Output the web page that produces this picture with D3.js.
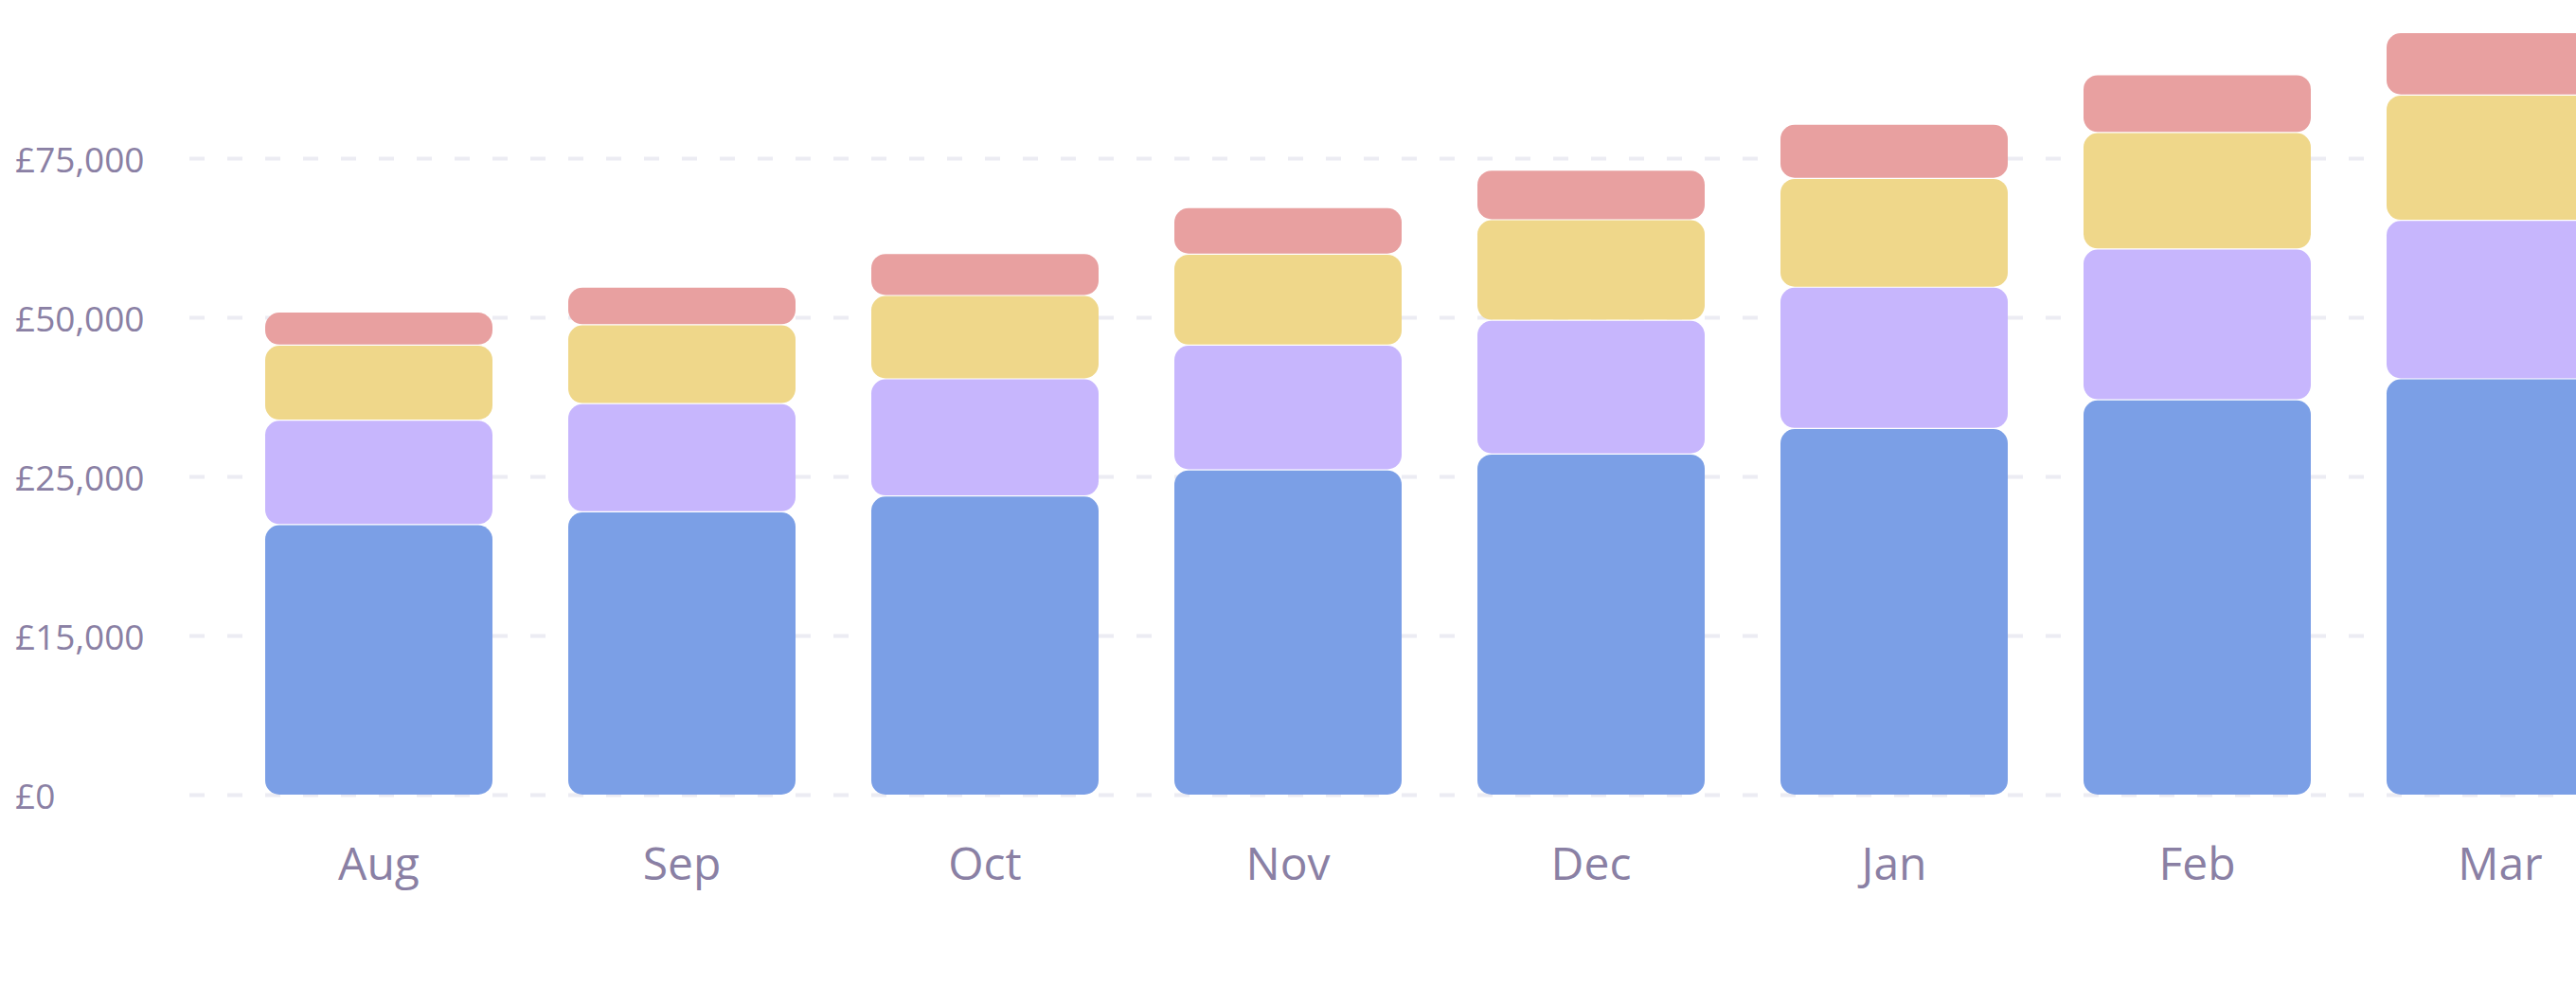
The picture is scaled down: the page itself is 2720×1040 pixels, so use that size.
<!DOCTYPE html>
<html>
<head>
<meta charset="utf-8">
<script src="https://cdn.jsdelivr.net/npm/d3@7/dist/d3.min.js"></script>
<style>
  html, body { margin: 0; padding: 0; background: #ffffff; }
  svg { display: block; }
  text { font-family: "Open Sans", "Noto Sans", sans-serif; }
</style>
</head>
<body>
<svg id="chart" width="2720" height="1040"></svg>
<script>
// ---- data ----
const months = ["Aug", "Sep", "Oct", "Nov", "Dec", "Jan", "Feb", "Mar"];
const seriesA = [22000, 22800, 23800, 26100, 28600, 32600, 37100, 40400]; // blue
const seriesB = [11900, 13700, 16600, 19600, 21000, 22200, 23700, 24900]; // purple
const seriesC = [11800, 12400, 13100, 14300, 15800, 17100, 18300, 19700]; // yellow
const seriesD = [5200, 5900, 6600, 7300, 7800, 8500, 9100, 9800];          // pink
const tickValues = [0, 15000, 25000, 50000, 75000];
const tickLabels = ["£0", "£15,000", "£25,000", "£50,000", "£75,000"];

const seriesKeys = ["a", "b", "c", "d"];
const colors = { a: "#7b9fe6", b: "#c7b6fd", c: "#efd78a", d: "#e8a0a0" };

const rows = months.map((m, i) => ({
  month: m, a: seriesA[i], b: seriesB[i], c: seriesC[i], d: seriesD[i]
}));

// ---- layout ----
const svg = d3.select("#chart");
const baseY = 839.5;
const tickStep = 168;

const x = d3.scaleBand()
  .domain(months)
  .range([240, 2800])
  .paddingInner(0.25)
  .paddingOuter(0.125);

// axis ticks are evenly spaced while labels are not: piecewise linear scale
const y = d3.scaleLinear()
  .domain(tickValues)
  .range(tickValues.map((_, i) => baseY - i * tickStep));

// gridlines
const grid = svg.append("g").attr("class", "grid");
grid.selectAll("line")
  .data(tickValues)
  .join("line")
  .attr("x1", 200)
  .attr("x2", 2800)
  .attr("y1", d => y(d))
  .attr("y2", d => y(d))
  .attr("stroke", "#ececf3")
  .attr("stroke-width", 4)
  .attr("stroke-dasharray", "16 24");

// y labels
svg.append("g").attr("class", "y-labels")
  .selectAll("text")
  .data(tickValues)
  .join("text")
  .attr("x", 16)
  .attr("y", d => y(d) + 14)
  .attr("fill", "#8a80a4")
  .attr("font-size", 37)
  .text((d, i) => tickLabels[i]);

// stacked bars
const stack = d3.stack().keys(seriesKeys);
const stacked = stack(rows);

const gap = 0.6;
svg.append("g").attr("class", "bars")
  .selectAll("g")
  .data(stacked)
  .join("g")
  .attr("fill", s => colors[s.key])
  .selectAll("rect")
  .data(s => s)
  .join("rect")
  .attr("x", d => x(d.data.month))
  .attr("width", x.bandwidth())
  .attr("y", d => y(d[1]) + gap)
  .attr("height", d => Math.max(0, y(d[0]) - y(d[1]) - 2 * gap))
  .attr("rx", 15)
  .attr("ry", 15);

// x labels
svg.append("g").attr("class", "x-labels")
  .selectAll("text")
  .data(months)
  .join("text")
  .attr("x", d => x(d) + x.bandwidth() / 2)
  .attr("y", 929)
  .attr("text-anchor", "middle")
  .attr("fill", "#8a80a4")
  .attr("font-size", 48)
  .text(d => d);
</script>
</body>
</html>
